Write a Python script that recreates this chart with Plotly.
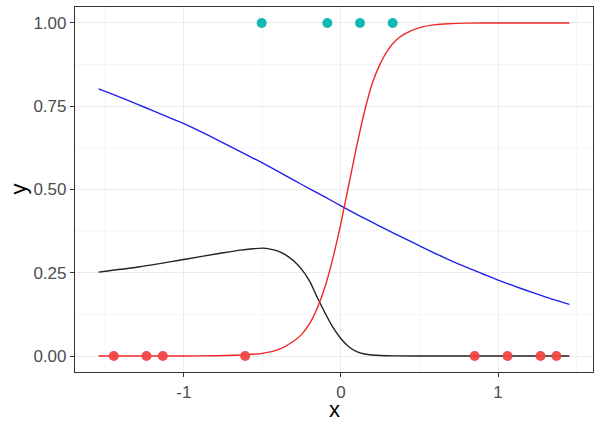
import plotly.graph_objects as go

# observed points
x_zero = [-1.446, -1.238, -1.134, -0.610, 0.851, 1.060, 1.270, 1.371]
y_zero = [0, 0, 0, 0, 0, 0, 0, 0]
x_one = [-0.505, -0.087, 0.121, 0.329]
y_one = [1, 1, 1, 1]

# red curve
red_x = [-1.543, -1.2, -1.0, -0.8, -0.6, -0.5, -0.4, -0.3, -0.25, -0.2, -0.15, -0.1, -0.05, 0.0,
         0.05, 0.1, 0.15, 0.2, 0.25, 0.3, 0.35, 0.4, 0.5, 0.6, 0.7, 0.8, 1.0, 1.2, 1.454]
red_y = [0.0, 0.0, 0.0002, 0.001, 0.004, 0.008, 0.019, 0.045, 0.065, 0.097, 0.145, 0.21, 0.297, 0.40,
         0.515, 0.63, 0.735, 0.82, 0.878, 0.92, 0.948, 0.966, 0.986, 0.995, 0.998, 0.9995, 1.0, 1.0, 1.0]

# blue curve
blue_x = [-1.543, -1.4, -1.25, -1.1, -1.0, -0.85, -0.75, -0.6, -0.5, -0.35, -0.25, -0.1, 0.0, 0.15,
          0.25, 0.4, 0.5, 0.65, 0.75, 0.9, 1.0, 1.15, 1.25, 1.35, 1.454]
blue_y = [0.802, 0.776, 0.747, 0.717, 0.698, 0.664, 0.640, 0.604, 0.580, 0.541, 0.515, 0.477, 0.451, 0.413,
          0.389, 0.354, 0.331, 0.297, 0.276, 0.247, 0.228, 0.202, 0.186, 0.170, 0.155]

# black curve
black_x = [-1.543, -1.28, -1.0, -0.75, -0.64, -0.56, -0.5, -0.45, -0.40, -0.35, -0.30, -0.25, -0.20,
           -0.15, -0.10, -0.05, 0.0, 0.05, 0.10, 0.15, 0.20, 0.25, 0.35, 0.6, 1.0, 1.454]
black_y = [0.252, 0.268, 0.290, 0.310, 0.318, 0.322, 0.324, 0.321, 0.315, 0.303, 0.285, 0.260, 0.225,
           0.175, 0.128, 0.085, 0.052, 0.028, 0.013, 0.006, 0.003, 0.0015, 0.0005, 0.0, 0.0, 0.0]

x_ticks = [-1, 0, 1]
x_ticklabels = ["-1", "0", "1"]
y_ticks = [0.0, 0.25, 0.5, 0.75, 1.0]
y_ticklabels = ["0.00", "0.25", "0.50", "0.75", "1.00"]
x_minor = [-1.5, -0.5, 0.5, 1.5]
y_minor = [0.125, 0.375, 0.625, 0.875]

FONT = "Liberation Sans, Arial, sans-serif"

fig = go.Figure()
fig.add_trace(go.Scatter(x=blue_x, y=blue_y, mode="lines", line=dict(color="#2020F0", width=1.4, shape="spline"),
                         showlegend=False))
fig.add_trace(go.Scatter(x=black_x, y=black_y, mode="lines", line=dict(color="#222222", width=1.4, shape="spline", smoothing=0.8),
                         showlegend=False))
fig.add_trace(go.Scatter(x=red_x, y=red_y, mode="lines", line=dict(color="#F02828", width=1.4, shape="spline", smoothing=0.8),
                         showlegend=False))
fig.add_trace(go.Scatter(x=x_zero, y=y_zero, mode="markers", marker=dict(color="#F24545", size=10, opacity=0.95),
                         showlegend=False))
fig.add_trace(go.Scatter(x=x_one, y=y_one, mode="markers", marker=dict(color="#14B6BA", size=10),
                         showlegend=False))

minor_col = "#F3F3F3"
for xv in x_minor:
    fig.add_vline(x=xv, line=dict(color=minor_col, width=0.8), layer="below")
for yv in y_minor:
    fig.add_hline(y=yv, line=dict(color=minor_col, width=0.8), layer="below")

axis_common = dict(
    showline=True, mirror=True, linecolor="#333333", linewidth=1.2,
    gridcolor="#EBEBEB", gridwidth=1.1, zeroline=False,
    ticks="outside", ticklen=4, tickcolor="#333333", tickwidth=1,
    tickfont=dict(family=FONT, size=17, color="#4D4D4D"),
    automargin=False,
)

fig.update_layout(
    width=600, height=429,
    margin=dict(l=75, r=7, t=7, b=57),
    plot_bgcolor="white", paper_bgcolor="white",
    xaxis=dict(range=[-1.693, 1.604], tickvals=x_ticks, ticktext=x_ticklabels, **axis_common),
    yaxis=dict(range=[-0.048, 1.048], tickvals=y_ticks, ticktext=y_ticklabels, **axis_common),
    annotations=[
        dict(text="x", xref="paper", yref="paper", x=0.5, y=-0.104, xanchor="center", yanchor="middle",
             showarrow=False, font=dict(family=FONT, size=22, color="black")),
        dict(text="y", xref="paper", yref="paper", x=-0.110, y=0.5, xanchor="center", yanchor="middle",
             textangle=-90, showarrow=False, font=dict(family=FONT, size=22, color="black")),
    ],
)

fig.write_html("out.html", config={"displayModeBar": False},
               post_script="document.body.style.margin='0px';document.body.style.overflow='hidden';")
